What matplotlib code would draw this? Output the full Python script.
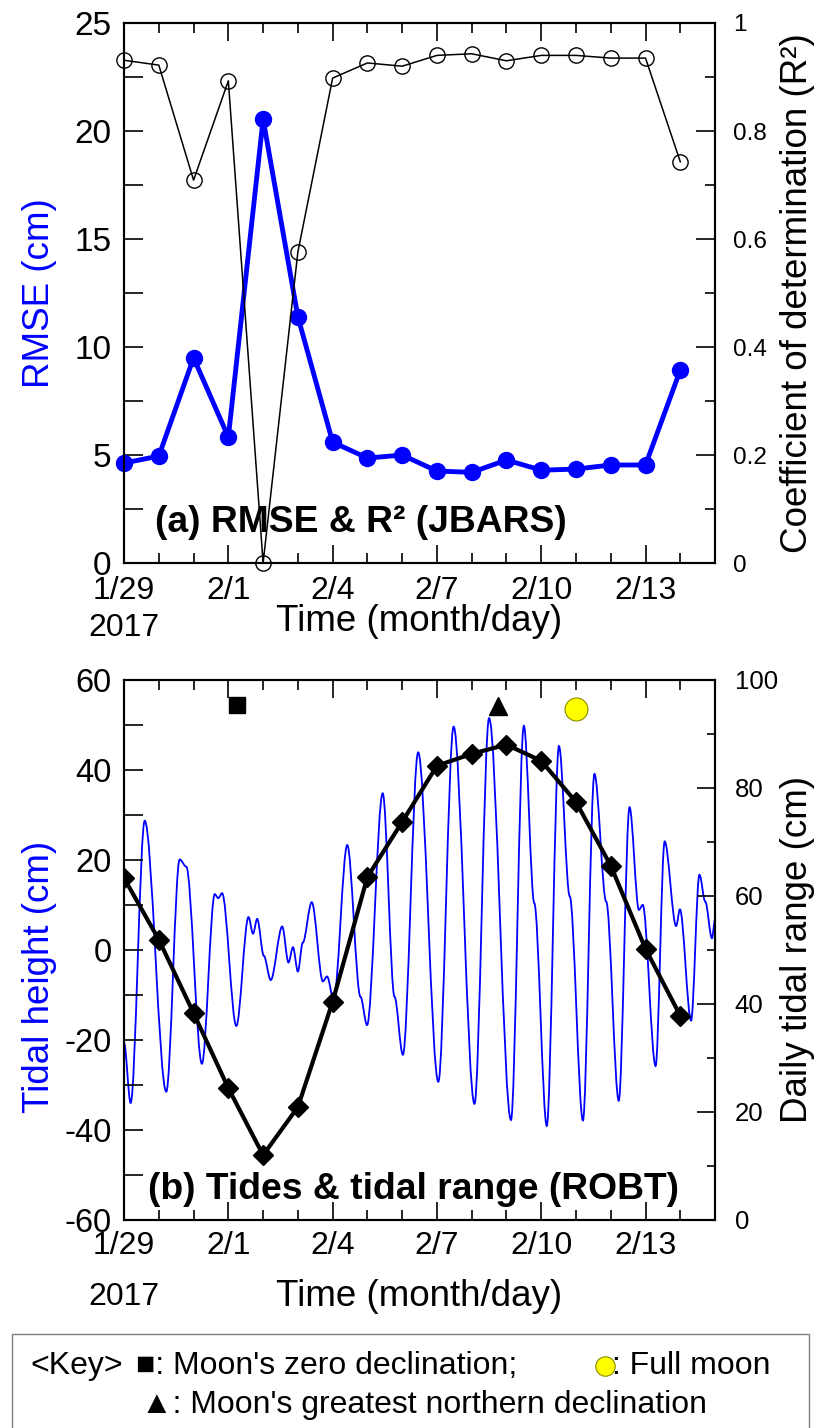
import numpy as np
import matplotlib
matplotlib.use('Agg')
import matplotlib.pyplot as plt
from matplotlib.lines import Line2D
from matplotlib.patches import Rectangle, PathPatch
from matplotlib.path import Path

plt.rcParams['font.family'] = ['Liberation Sans', 'DejaVu Sans']
plt.rcParams['axes.unicode_minus'] = False

# day index 0 = 1/29/2017
days = list(range(17))
rmse_cm = [4.63, 4.95, 9.5, 5.83, 20.55, 11.4, 5.6, 4.86, 5.0, 4.26, 4.2, 4.77, 4.3, 4.35, 4.54, 4.54, 8.93]
r2 = [0.931, 0.922, 0.709, 0.893, 0.0, 0.576, 0.898, 0.926, 0.92, 0.94, 0.943, 0.93, 0.94, 0.94, 0.935, 0.935, 0.743]
tidal_range = [63.3, 51.9, 38.3, 24.4, 12.0, 20.9, 40.4, 63.5, 73.7, 84.1, 86.3, 88.0, 85.0, 77.4, 65.6, 50.2, 37.8]

# tide curve (turning points and shoulders)
tide_day = [0.0, 0.19, 0.595, 1.215, 1.60, 1.79, 2.24, 2.61, 2.71, 2.82, 3.23, 3.58, 3.71, 3.83,
            4.02, 4.22, 4.55, 4.73, 4.86, 5.0, 5.14, 5.40, 5.72, 5.84, 6.03, 6.42, 6.80, 6.99,
            7.44, 7.78, 8.02, 8.46, 9.04, 9.48, 10.08, 10.50, 11.13, 11.50, 11.80, 12.16, 12.51,
            12.82, 13.20, 13.53, 13.87, 14.23, 14.54, 14.81, 14.92, 15.29, 15.55, 15.88, 15.99,
            16.31, 16.55, 16.72, 16.91, 17.0]
tide_cm = [-20.7, -34.0, 28.7, -31.5, 20.1, 18.5, -25.3, 12.4, 11.5, 12.6, -16.9, 7.3, 3.6, 6.9,
           -1.3, -6.7, 5.2, -2.8, 0.6, -4.8, 1.6, 10.6, -7.0, -5.9, -11.1, 23.3, -10.4, -16.7,
           34.8, -10.4, -23.3, 43.9, -29.3, 49.6, -34.2, 51.5, -37.8, 49.8, 10.4, -39.1, 45.3,
           11.9, -37.9, 39.1, 10.7, -33.5, 31.7, 8.9, 10.0, -25.8, 24.1, 5.3, 9.0,
           -15.7, 16.7, 10.7, 2.6, 6.7]

# moon events (day, tidal height axis)
zero_decl = (3.24, 54.4)
north_decl = (10.76, 54.2)
full_moon = (13.0, 53.5)

date_ticks = [0, 3, 6, 9, 12, 15]
date_labels = ['1/29', '2/1', '2/4', '2/7', '2/10', '2/13']

blue = '#0000ff'
fig = plt.figure(figsize=(8.22, 14.28), dpi=100)


def style_x(ax, pad):
    ax.set_xlim(0, 17)
    ax.set_xticks(date_ticks)
    ax.set_xticklabels(date_labels)
    ax.set_xticks(days + [17], minor=True)
    ax.tick_params(axis='x', which='both', direction='in', top=True, bottom=True,
                   width=1.2, labelsize=23, pad=pad)
    ax.tick_params(axis='x', which='major', length=13)
    ax.tick_params(axis='x', which='minor', length=7)
    for s in ax.spines.values():
        s.set_linewidth(1.5)


def smooth_path(xs, ys):
    # cubic segments with flat tangents at each turning point
    verts = [(xs[0], ys[0])]
    codes = [Path.MOVETO]
    for i in range(1, len(xs)):
        dx = (xs[i] - xs[i - 1]) / 3.0
        verts += [(xs[i - 1] + dx, ys[i - 1]), (xs[i] - dx, ys[i]), (xs[i], ys[i])]
        codes += [Path.CURVE4] * 3
    return Path(verts, codes)


# ---- (a) RMSE & R2 ----
ax1 = fig.add_axes([0.1509, 0.6057, 0.719, 0.3782])
ax1r = ax1.twinx()
ax1.plot(days, rmse_cm, color=blue, lw=3.5, marker='o', ms=11.5, clip_on=False, zorder=3)
ax1r.plot(days, r2, color='k', lw=1.1, marker='o', ms=11, mfc='none', mec='k', mew=1.0, clip_on=False)
style_x(ax1, 9)
ax1.set_ylim(0, 25)
ax1.set_yticks([0, 5, 10, 15, 20, 25])
ax1.set_yticks(np.arange(0, 25.1, 2.5), minor=True)
ax1.tick_params(axis='y', which='both', direction='in', length=14, width=1.2, labelsize=24, pad=9)
ax1r.set_ylim(0, 1)
ax1r.set_yticks([0, 0.2, 0.4, 0.6, 0.8, 1.0])
ax1r.set_yticklabels(['0', '0.2', '0.4', '0.6', '0.8', '1'])
ax1r.set_yticks(np.arange(0, 1.01, 0.1), minor=True)
ax1r.tick_params(axis='y', which='both', direction='in', width=1.2, labelsize=17.5, pad=13)
ax1r.tick_params(axis='y', which='major', length=14)
ax1r.tick_params(axis='y', which='minor', length=7)
for s in ax1r.spines.values():
    s.set_linewidth(1.5)
ax1.set_ylabel('RMSE (cm)', color=blue, fontsize=26.5)
ax1.yaxis.set_label_coords(-0.113, 0.5)
ax1r.set_ylabel('Coefficient of determination (R²)', fontsize=26.5)
ax1r.yaxis.set_label_coords(1.110, 0.5)
ax1.set_xlabel('Time (month/day)', fontsize=26.5, va='center')
ax1.xaxis.set_label_coords(0.5, -0.108)
ax1.text(0.0, -0.12, '2017', transform=ax1.transAxes, ha='center', va='center', fontsize=23)
ax1.text(0.052, 0.076, '(a) RMSE & R² (JBARS)', transform=ax1.transAxes, ha='left', va='center',
         fontsize=26.8, fontweight='bold')

# ---- (b) tides & tidal range ----
ax2 = fig.add_axes([0.1509, 0.1457, 0.719, 0.3782])
ax2r = ax2.twinx()
ax2.add_patch(PathPatch(smooth_path(tide_day, tide_cm), fill=False, edgecolor=blue, lw=1.3))
ax2.plot(*zero_decl, marker='s', ms=11, color='k', ls='none')
ax2.plot(*north_decl, marker='^', ms=13, color='k', ls='none')
ax2.plot(*full_moon, marker='o', ms=16.5, mfc='#ffff00', mec='#8c8c00', mew=0.8, ls='none')
ax2r.plot(days, tidal_range, color='k', lw=3, marker='D', ms=10)
style_x(ax2, 8)
ax2.set_ylim(-60, 60)
ax2.set_yticks([-60, -40, -20, 0, 20, 40, 60])
ax2.set_yticklabels(['-60', '-40', '-20', '0', '20', '40', '60'])
ax2.set_yticks(np.arange(-60, 61, 10), minor=True)
ax2.tick_params(axis='y', which='both', direction='in', length=14, width=1.2, labelsize=23.5, pad=9)
ax2r.set_ylim(0, 100)
ax2r.set_yticks([0, 20, 40, 60, 80, 100])
ax2r.set_yticks(np.arange(0, 101, 10), minor=True)
ax2r.tick_params(axis='y', which='both', direction='in', width=1.2, labelsize=18.5, pad=14)
ax2r.tick_params(axis='y', which='major', length=13)
ax2r.tick_params(axis='y', which='minor', length=6)
for s in ax2r.spines.values():
    s.set_linewidth(1.5)
ax2.set_ylabel('Tidal height (cm)', color=blue, fontsize=26.5)
ax2.yaxis.set_label_coords(-0.113, 0.45)
ax2r.set_ylabel('Daily tidal range (cm)', fontsize=26.5)
ax2r.yaxis.set_label_coords(1.110, 0.5)
ax2.set_xlabel('Time (month/day)', fontsize=26.5, va='center')
ax2.xaxis.set_label_coords(0.5, -0.1426)
ax2.text(0.0, -0.1426, '2017', transform=ax2.transAxes, ha='center', va='center', fontsize=23)
ax2.text(0.04, 0.057, '(b) Tides & tidal range (ROBT)', transform=ax2.transAxes, ha='left', va='center',
         fontsize=26.8, fontweight='bold')

# ---- key box ----
fig.add_artist(Rectangle((0.0146, -0.01), 0.969, 0.0758, transform=fig.transFigure,
                         fill=False, edgecolor='#808080', lw=1.0))
fig.text(0.037, 0.0434, '<Key>', fontsize=23, va='center', ha='left')
fig.text(0.166, 0.0434, "■: Moon's zero declination;", fontsize=23, va='center', ha='left')
fig.add_artist(Line2D([0.736], [0.0434], transform=fig.transFigure, marker='o', ms=14,
                      mfc='#ffff00', mec='#8c8c00', mew=0.8, ls='none'))
fig.text(0.745, 0.0434, ': Full moon', fontsize=23, va='center', ha='left')
fig.text(0.172, 0.0161, "▲: Moon's greatest northern declination", fontsize=23, va='center', ha='left')

fig.savefig('out.png', dpi=100, facecolor='white')
